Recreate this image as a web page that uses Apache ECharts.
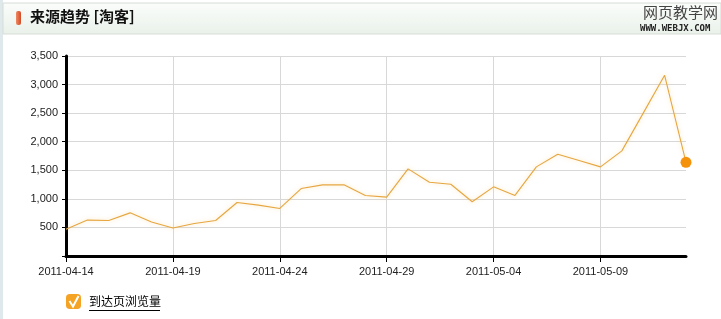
<!DOCTYPE html>
<html><head><meta charset="utf-8">
<script src="https://cdn.jsdelivr.net/npm/echarts@6/dist/echarts.min.js"></script>
<style>html,body{margin:0;padding:0;background:#fff}#c{width:721px;height:319px}</style>
</head><body><div id="c"></div>
<script>
const categories = ['2011-04-14','2011-04-15','2011-04-16','2011-04-17','2011-04-18','2011-04-19','2011-04-20','2011-04-21','2011-04-22','2011-04-23','2011-04-24','2011-04-25','2011-04-26','2011-04-27','2011-04-28','2011-04-29','2011-04-30','2011-05-01','2011-05-02','2011-05-03','2011-05-04','2011-05-05','2011-05-06','2011-05-07','2011-05-08','2011-05-09','2011-05-10','2011-05-11','2011-05-12','2011-05-13'];
const pageViews = [470,628,622,755,595,490,570,622,937,890,832,1180,1245,1245,1060,1030,1525,1290,1255,950,1210,1060,1560,1780,1670,1560,1840,2500,3163,1640];
const seriesName = '到达页浏览量';
const titleText = '来源趋势 [淘客]';
const yTicks = [0,500,1000,1500,2000,2500,3000,3500];

const chart = echarts.init(document.getElementById('c'), null, {renderer:'canvas'});
const lastIdx = pageViews.length - 1;
chart.setOption({
  animation:false,
  backgroundColor:'#fff',
  grid:{left:66,right:35,top:56,bottom:63},
  graphic:[
    {type:'rect',shape:{x:0,y:0,width:3,height:319},style:{fill:'#dfe9eb'},z:-1},
    {type:'rect',shape:{x:3,y:3,width:718,height:31},style:{
      fill:new echarts.graphic.LinearGradient(0,0,0,1,[{offset:0,color:'#fbfdfb'},{offset:1,color:'#e9f1ea'}]),
      stroke:'#d6dcd6',lineWidth:1},z:-1},
    {type:'rect',shape:{x:16,y:11,width:5,height:14,r:2},style:{
      fill:new echarts.graphic.LinearGradient(0,0,1,0,[{offset:0,color:'#ee8a62'},{offset:1,color:'#d24a25'}])}},
    {type:'text',left:30,top:9,style:{text:titleText,font:'bold 15px "Noto Sans CJK SC", sans-serif',fill:'#111'}},
    {type:'text',left:643,top:5,style:{text:'网页教学网',font:'15px "Noto Sans CJK SC", sans-serif',fill:'#444'}},
    {type:'text',left:640,top:24,style:{text:'WWW.WEBJX.COM',font:'bold 9px "DejaVu Sans Mono", monospace',fill:'#222'}},
    {type:'polyline',shape:{points:[[69.5,301],[73,306.5],[78.5,296]]},style:{stroke:'#fff',lineWidth:2,fill:null},z:100},
    {type:'line',shape:{x1:89,y1:310.5,x2:160,y2:310.5},style:{stroke:'#000',lineWidth:1},z:100}
  ],
  legend:{
    left:66,top:294,itemWidth:15,itemHeight:15,icon:'roundRect',padding:0,
    data:[{name:seriesName,itemStyle:{color:'#f5a325'}}],
    textStyle:{fontSize:12,color:'#000',fontFamily:'"Noto Sans CJK SC", sans-serif',padding:[0,0,0,3]},
    itemGap:8,selectedMode:false
  },
  xAxis:{
    type:'category',data:categories,boundaryGap:false,
    axisLine:{lineStyle:{color:'#000',width:3}},
    axisTick:{interval:4,length:6,lineStyle:{color:'#000',width:1}},
    axisLabel:{interval:4,color:'#222',fontSize:11,fontFamily:'"Liberation Sans", Arial, sans-serif',margin:10},
    splitLine:{show:true,interval:4,lineStyle:{color:'#d8d8d8',width:1}}
  },
  yAxis:{
    type:'value',min:yTicks[0],max:yTicks[yTicks.length-1],interval:500,
    axisLine:{show:true,lineStyle:{color:'#000',width:3}},
    axisTick:{show:true,length:4,lineStyle:{color:'#000',width:1}},
    axisLabel:{color:'#222',fontSize:11,fontFamily:'"Liberation Sans", Arial, sans-serif',margin:8,
      formatter:v=>v===0?'':v.toLocaleString('en-US')},
    splitLine:{show:true,lineStyle:{color:'#d8d8d8',width:1}}
  },
  series:[{
    name:seriesName,type:'line',data:pageViews,
    showAllSymbol:true,symbol:'circle',
    symbolSize:(v,p)=>p.dataIndex===lastIdx?11:0,
    itemStyle:{color:'#f5920c'},
    lineStyle:{color:'#e6a640',width:1.1,shadowColor:'rgba(250,205,120,0.6)',shadowBlur:4},
    color:'#f5a325'
  }]
});
</script></body></html>
